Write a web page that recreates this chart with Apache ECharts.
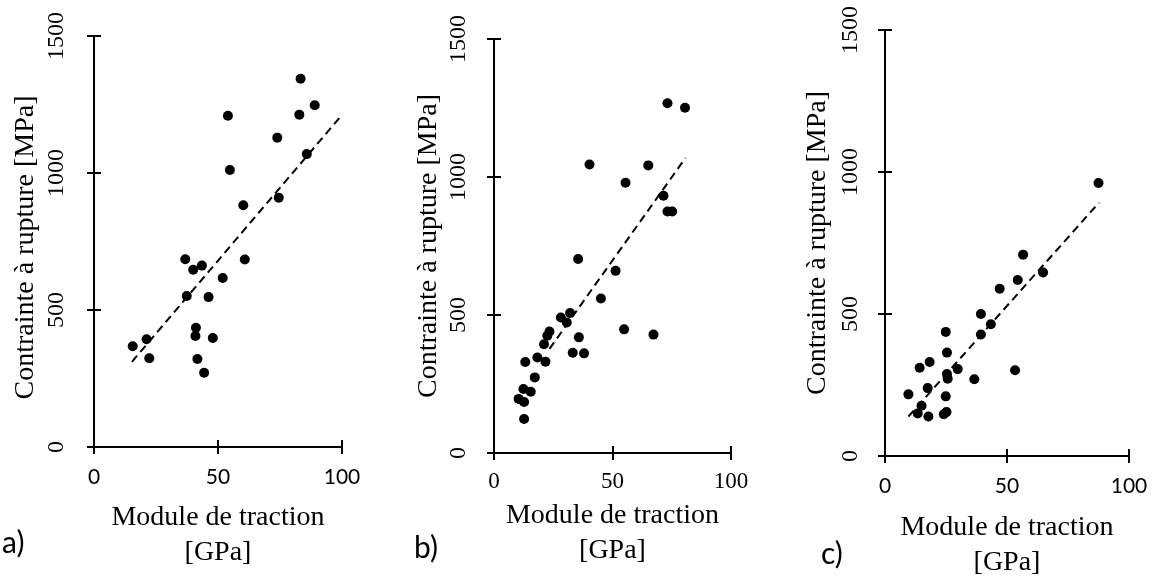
<!DOCTYPE html>
<html><head><meta charset="utf-8">
<script src="https://cdn.jsdelivr.net/npm/echarts@6/dist/echarts.min.js"></script>
<style>html,body{margin:0;padding:0;background:#fff}#c{width:1159px;height:581px}</style>
</head><body><div id="c"></div>
<script>
const xTicks = [0, 50, 100];
const yTicks = [0, 500, 1000, 1500];
const panelLabels = ['a)', 'b)', 'c)'];
const xTitle = 'Module de traction\n[GPa]';
const yTitle = 'Contrainte à rupture [MPa]';

const aModulus = [15.6, 21.2, 22.3, 36.8, 40.0, 43.5, 37.4, 46.2, 51.9, 41.1, 40.9, 47.9, 41.7, 44.4, 54.0, 54.8, 60.2, 60.8, 73.9, 74.5, 83.3, 82.8, 89.0, 85.8];
const aStress  = [368, 393, 324, 685, 647, 662, 551, 547, 617, 435, 405, 398, 321, 271, 1209, 1011, 882, 684, 1129, 910, 1344, 1213, 1247, 1069];
const aTrendModulus = [15.3, 99.9];
const aTrendStress  = [311, 1211];

const bModulus = [12.7, 10.4, 12.7, 12.4, 15.5, 17.2, 13.2, 18.3, 21.7, 21.1, 22.5, 23.4, 28.2, 30.7, 32.1, 33.2, 38.0, 35.8, 35.5, 40.3, 45.1, 51.3, 54.9, 55.5, 65.1, 67.3, 71.5, 73.2, 75.2, 73.2, 80.6];
const bStress  = [123, 196, 185, 232, 222, 274, 330, 346, 331, 394, 425, 440, 491, 473, 507, 363, 361, 419, 703, 1045, 560, 660, 448, 979, 1042, 429, 932, 875, 875, 1267, 1251];
const bTrendModulus = [23.4, 80.8];
const bTrendStress  = [377, 1069];

const cModulus = [9.6, 13.4, 15.0, 17.8, 17.5, 14.2, 18.3, 24.9, 25.4, 24.9, 24.1, 25.2, 25.4, 25.7, 29.8, 36.6, 39.3, 39.3, 43.4, 47.0, 53.3, 54.4, 56.6, 64.8, 87.5];
const cStress  = [217, 150, 177, 139, 239, 311, 331, 437, 364, 210, 147, 155, 289, 272, 306, 270, 428, 500, 464, 589, 302, 620, 709, 646, 961];
const cTrendModulus = [9.6, 87.7];
const cTrendStress  = [139, 892];

const zip = (xs, ys) => xs.map((x, i) => [x, ys[i]]);
const SERIF = 'Liberation Serif';
const SANS = 'Lato';
const panels = [
  {pts: zip(aModulus, aStress), trend: zip(aTrendModulus, aTrendStress), grid: {left: 94, top: 36, width: 248, height: 411},
   xGap: 53, xMargin: 20, yGap: 54, yMargin: 25, yPad: [0, 12, 0, 0], xFont: SANS, xSize: 21},
  {pts: zip(bModulus, bStress), trend: zip(bTrendModulus, bTrendStress), grid: {left: 494, top: 39, width: 237, height: 414},
   xGap: 45, xMargin: 17, yGap: 51, yMargin: 23, yPad: [0, 0, 0, 0], xFont: SERIF, xSize: 23},
  {pts: zip(cModulus, cStress), trend: zip(cTrendModulus, cTrendStress), grid: {left: 885, top: 30, width: 244, height: 426},
   xGap: 54, xMargin: 20, yGap: 53, yMargin: 22, yPad: [0, 0, 0, 0], xFont: SANS, xSize: 21}
];

const black = '#000';
const n = panels.length;
const grids = [], xAxes = [], yAxes = [], series = [];
const xBase = i => ({type: 'value', gridIndex: i, min: xTicks[0], max: xTicks[xTicks.length - 1], interval: xTicks[1] - xTicks[0], position: 'bottom', splitLine: {show: false}});
const yBase = i => ({type: 'value', gridIndex: i, min: yTicks[0], max: yTicks[yTicks.length - 1], interval: yTicks[1] - yTicks[0], position: 'left', splitLine: {show: false}});
// main grids: outside half of the ticks, labels, names, points
panels.forEach((p, i) => {
  grids.push(Object.assign({containLabel: false, outerBoundsMode: 'none'}, p.grid));
  xAxes.push(Object.assign(xBase(i), {
    axisLine: {show: true, lineStyle: {color: black, width: 2}},
    axisTick: {show: true, length: 7, lineStyle: {color: black, width: 2}},
    axisLabel: {color: black, fontFamily: p.xFont, fontSize: p.xSize, margin: p.xMargin, formatter: v => String(v)},
    name: xTitle, nameLocation: 'middle', nameGap: p.xGap,
    nameTextStyle: {color: black, fontFamily: SERIF, fontSize: 28, lineHeight: 35}
  }));
  yAxes.push(Object.assign(yBase(i), {
    axisLine: {show: true, lineStyle: {color: black, width: 2}},
    axisTick: {show: true, length: 7, lineStyle: {color: black, width: 2}},
    axisLabel: {color: black, fontFamily: SERIF, fontSize: 24, margin: p.yMargin, rotate: 90, formatter: v => String(v)},
    name: yTitle, nameLocation: 'middle', nameGap: p.yGap,
    nameTextStyle: {color: black, fontFamily: SERIF, fontSize: 28, padding: p.yPad}
  }));
  series.push({
    type: 'scatter', xAxisIndex: i, yAxisIndex: i, data: p.pts, symbolSize: 10, z: 3,
    itemStyle: {color: black, opacity: 1}
  });
});
// overlay grids at the same place: inside half of the ticks (so ticks cross the axes) and trend lines
panels.forEach((p, i) => {
  const g = n + i;
  grids.push(Object.assign({containLabel: false, outerBoundsMode: 'none'}, p.grid));
  xAxes.push(Object.assign(xBase(g), {
    axisLine: {show: true, lineStyle: {color: black, width: 2}},
    axisTick: {show: true, inside: true, length: 7, lineStyle: {color: black, width: 2}},
    axisLabel: {show: false}
  }));
  yAxes.push(Object.assign(yBase(g), {
    axisLine: {show: true, lineStyle: {color: black, width: 2}},
    axisTick: {show: true, inside: true, length: 7, lineStyle: {color: black, width: 2}},
    axisLabel: {show: false}
  }));
  series.push({
    type: 'line', xAxisIndex: g, yAxisIndex: g, data: p.trend, symbol: 'none', z: 1,
    lineStyle: {color: black, width: 2, type: [8, 5]}
  });
});

const labelPos = [[2, 528], [414, 533], [821, 539]];
const chart = echarts.init(document.getElementById('c'), null, {renderer: 'canvas'});
chart.setOption({
  animation: false,
  backgroundColor: '#fff',
  grid: grids, xAxis: xAxes, yAxis: yAxes, series: series,
  graphic: panelLabels.map((t, i) => ({
    type: 'text', left: labelPos[i][0], top: labelPos[i][1],
    style: {text: t, fill: black, font: '30px Lato'}
  }))
});
</script></body></html>
